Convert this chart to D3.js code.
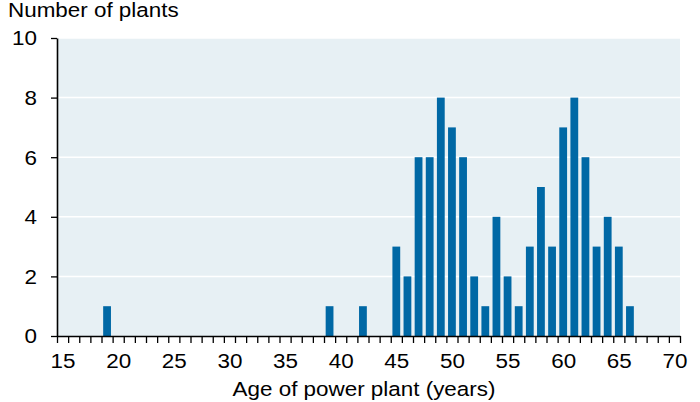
<!DOCTYPE html>
<html>
<head>
<meta charset="utf-8">
<script src="https://cdn.jsdelivr.net/npm/d3@7"></script>
<style>
  body { margin: 0; background: #fff; }
  svg text { font-family: "Liberation Sans", Arial, sans-serif; font-size: 19.5px; fill: #000; }
</style>
</head>
<body>
<div id="chart"></div>
<script>
// ages of plants (years) and how many plants have that age
var ages   = [19, 39, 42, 45, 46, 47, 48, 49, 50, 51, 52, 53, 54, 55, 56, 57, 58, 59, 60, 61, 62, 63, 64, 65, 66];
var counts = [ 1,  1,  1,  3,  2,  6,  6,  8,  7,  6,  2,  1,  4,  2,  1,  3,  5,  3,  7,  8,  6,  3,  4,  3,  1];
var xLabels = [15, 20, 25, 30, 35, 40, 45, 50, 55, 60, 65, 70];
var yTicks  = [0, 2, 4, 6, 8, 10];
var yTitle = 'Number of plants';
var xTitle = 'Age of power plant (years)';

var W = 700, H = 402;
var plot = {left: 57, right: 680, top: 38, bottom: 336};
var sx = 1.15; // the reference type is a bit wider than Liberation Sans

var svg = d3.select('#chart').append('svg')
    .attr('width', W)
    .attr('height', H);

var x = d3.scaleLinear()
    .domain([14.5, 70.5])
    .range([plot.left, plot.right]);

var y = d3.scaleLinear()
    .domain([0, 10])
    .range([plot.bottom, plot.top]);

// background
svg.append('rect')
    .attr('x', plot.left)
    .attr('y', plot.top)
    .attr('width', plot.right - plot.left)
    .attr('height', plot.bottom - plot.top)
    .attr('fill', '#e7f0f4');

// gridlines
svg.append('g').selectAll('line')
    .data(yTicks.filter(function(d) { return d > 0; }))
    .enter().append('line')
    .attr('x1', plot.left)
    .attr('x2', plot.right)
    .attr('y1', function(d) { return y(d); })
    .attr('y2', function(d) { return y(d); })
    .attr('stroke', '#fff')
    .attr('stroke-width', 1.5);

// bars
var barW = 7.8;
svg.append('g').selectAll('rect')
    .data(ages)
    .enter().append('rect')
    .attr('x', function(d) { return x(d) - barW / 2; })
    .attr('y', function(d, i) { return y(counts[i]); })
    .attr('width', barW)
    .attr('height', function(d, i) { return y(0) - y(counts[i]); })
    .attr('fill', '#0068a5');

// x axis: minor ticks between the years
var minor = d3.range(14.5, 71, 1);
var gxm = svg.append('g')
    .attr('transform', 'translate(0,' + plot.bottom + ')')
    .call(d3.axisBottom(x).tickValues(minor).tickSize(7).tickFormat('').tickSizeOuter(0));
gxm.select('.domain').attr('stroke', '#000').attr('stroke-width', 1.6);
gxm.selectAll('.tick line').attr('stroke', '#000').attr('stroke-width', 1.3);

// x axis labels
var gxl = svg.append('g')
    .attr('transform', 'translate(0,' + plot.bottom + ')')
    .call(d3.axisBottom(x).tickValues(xLabels).tickSize(0));
gxl.select('.domain').remove();
gxl.selectAll('text')
    .attr('dy', null)
    .attr('y', 32)
    .attr('x', 0)
    .attr('transform', 'scale(' + sx + ',1)');

// y axis
var gy = svg.append('g')
    .attr('transform', 'translate(' + plot.left + ',0)')
    .call(d3.axisLeft(y).tickValues(yTicks).tickSize(6).tickSizeOuter(0));
gy.select('.domain').attr('stroke', '#000').attr('stroke-width', 1.6);
gy.selectAll('.tick line').attr('stroke', '#000').attr('stroke-width', 1.3);
gy.selectAll('text')
    .attr('x', -20 / sx)
    .attr('dy', '0.35em')
    .attr('transform', 'scale(' + sx + ',1)');

// titles
svg.append('text')
    .attr('transform', 'translate(8,17) scale(' + sx + ',1)')
    .text(yTitle);

svg.append('text')
    .attr('transform', 'translate(364,396) scale(' + sx + ',1)')
    .attr('text-anchor', 'middle')
    .text(xTitle);
</script>
</body>
</html>
